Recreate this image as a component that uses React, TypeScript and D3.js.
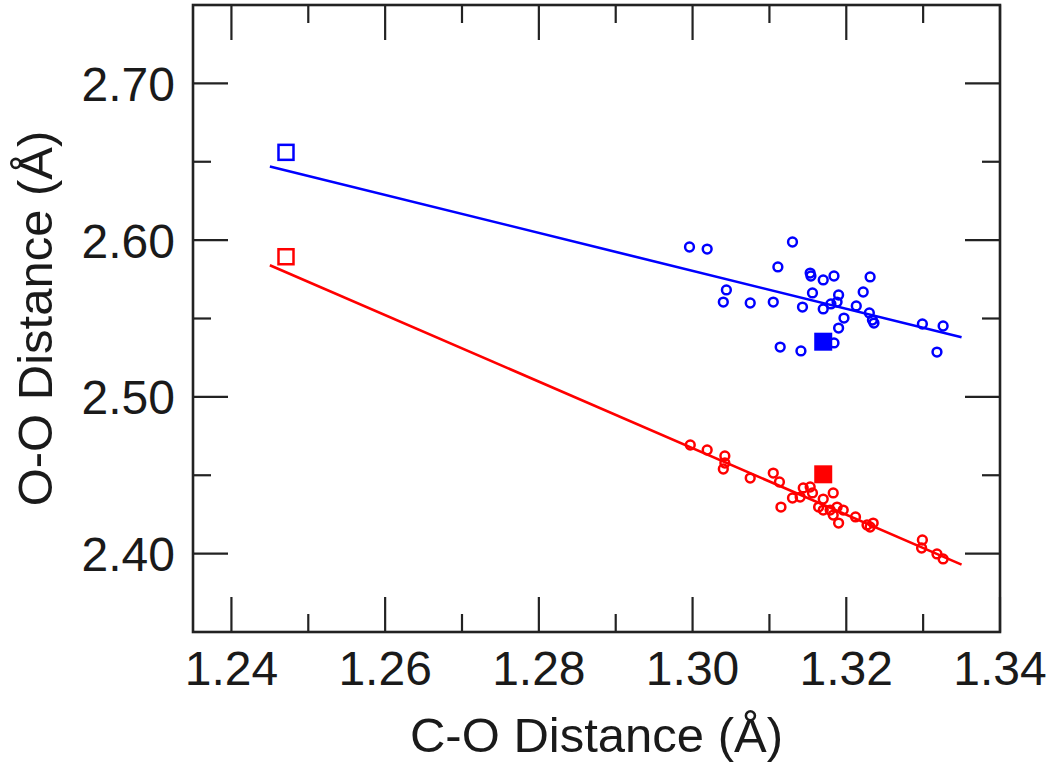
import React from "react";
import * as d3 from "d3";

const xMajorTicks = [1.24, 1.26, 1.28, 1.3, 1.32, 1.34];
const xMinorTicks = [1.25, 1.27, 1.29, 1.31, 1.33];
const yMajorTicks = [2.4, 2.5, 2.6, 2.7];
const yMinorTicks = [2.45, 2.55, 2.65];

const blueCircles: [number, number][] = [
  [1.2996, 2.5956], [1.3019, 2.5943], [1.313, 2.5988], [1.3111, 2.5829],
  [1.3153, 2.579], [1.3154, 2.5771], [1.317, 2.5746], [1.3184, 2.5771],
  [1.3231, 2.5765], [1.3044, 2.5682], [1.304, 2.5605], [1.3075, 2.5599],
  [1.3105, 2.5605], [1.3156, 2.5663], [1.3143, 2.5573], [1.317, 2.5561],
  [1.318, 2.5593], [1.319, 2.565], [1.3188, 2.5605], [1.3222, 2.5669],
  [1.3213, 2.558], [1.323, 2.5535], [1.3234, 2.549], [1.3236, 2.5471],
  [1.3197, 2.5503], [1.319, 2.5439], [1.3184, 2.5344], [1.3114, 2.5318],
  [1.3141, 2.5293], [1.3299, 2.5465], [1.3326, 2.5452], [1.3318, 2.5286],
];

const redCircles: [number, number][] = [
  [1.2997, 2.4693], [1.3019, 2.4661], [1.3042, 2.4623], [1.3042, 2.4578],
  [1.304, 2.454], [1.3075, 2.4482], [1.3105, 2.4514], [1.3113, 2.4457],
  [1.3115, 2.4297], [1.313, 2.4355], [1.314, 2.4361], [1.3144, 2.4419],
  [1.3153, 2.4425], [1.3156, 2.4387], [1.317, 2.4348], [1.3183, 2.4387],
  [1.3164, 2.4297], [1.317, 2.4278], [1.3179, 2.4278], [1.3188, 2.4297],
  [1.3196, 2.4278], [1.3183, 2.4246], [1.319, 2.4195], [1.3212, 2.4234],
  [1.3227, 2.4183], [1.3235, 2.4195], [1.3231, 2.417], [1.3299, 2.4087],
  [1.3298, 2.4036], [1.3318, 2.3998], [1.3326, 2.3966],
];

const blueFit: [number, number][] = [[1.245, 2.647], [1.335, 2.538]];
const redFit: [number, number][] = [[1.245, 2.584], [1.335, 2.393]];

const blueOpenSquare: [number, number] = [1.2471, 2.656];
const redOpenSquare: [number, number] = [1.2471, 2.5894];
const blueFilledSquare: [number, number] = [1.317, 2.5352];
const redFilledSquare: [number, number] = [1.317, 2.4506];

const BLUE = "#0000ff";
const RED = "#ff0000";
const FONT = "'Liberation Sans', Arial, Helvetica, sans-serif";

export default function App() {
  const W = 1050, H = 764;
  const left = 193, right = 1000, top = 5, bottom = 632;
  const x = d3.scaleLinear().domain([1.235, 1.34]).range([left, right]);
  const y = d3.scaleLinear().domain([2.35, 2.75]).range([bottom, top]);
  const line = d3.line<[number, number]>().x((d) => x(d[0])).y((d) => y(d[1]));

  const majLen = 35, minLen = 18;
  const openSize = 15, fillSize = 18;

  return (
    <div style={{ position: "absolute", left: 0, top: 0 }}>
      <svg width={W} height={H} style={{ display: "block", background: "#fff" }}>
        <g stroke="#222" strokeWidth={2.2}>
          {xMajorTicks.map((t) => (
            <g key={"xM" + t}>
              <line x1={x(t)} x2={x(t)} y1={bottom} y2={bottom - majLen} />
              <line x1={x(t)} x2={x(t)} y1={top} y2={top + majLen} />
            </g>
          ))}
          {xMinorTicks.map((t) => (
            <g key={"xm" + t}>
              <line x1={x(t)} x2={x(t)} y1={bottom} y2={bottom - minLen} />
              <line x1={x(t)} x2={x(t)} y1={top} y2={top + minLen} />
            </g>
          ))}
          {yMajorTicks.map((t) => (
            <g key={"yM" + t}>
              <line x1={left} x2={left + majLen} y1={y(t)} y2={y(t)} />
              <line x1={right} x2={right - majLen} y1={y(t)} y2={y(t)} />
            </g>
          ))}
          {yMinorTicks.map((t) => (
            <g key={"ym" + t}>
              <line x1={left} x2={left + minLen} y1={y(t)} y2={y(t)} />
              <line x1={right} x2={right - minLen} y1={y(t)} y2={y(t)} />
            </g>
          ))}
        </g>

        <path d={line(blueFit) || ""} stroke={BLUE} strokeWidth={2.6} fill="none" />
        <path d={line(redFit) || ""} stroke={RED} strokeWidth={2.6} fill="none" />

        {blueCircles.map((d, i) => (
          <circle key={"b" + i} cx={x(d[0])} cy={y(d[1])} r={4.4} fill="none" stroke={BLUE} strokeWidth={2.5} />
        ))}
        {redCircles.map((d, i) => (
          <circle key={"r" + i} cx={x(d[0])} cy={y(d[1])} r={4.4} fill="none" stroke={RED} strokeWidth={2.5} />
        ))}

        <rect x={x(blueOpenSquare[0]) - openSize / 2} y={y(blueOpenSquare[1]) - openSize / 2} width={openSize} height={openSize} fill="none" stroke={BLUE} strokeWidth={2.5} />
        <rect x={x(redOpenSquare[0]) - openSize / 2} y={y(redOpenSquare[1]) - openSize / 2} width={openSize} height={openSize} fill="none" stroke={RED} strokeWidth={2.5} />
        <rect x={x(blueFilledSquare[0]) - fillSize / 2} y={y(blueFilledSquare[1]) - fillSize / 2} width={fillSize} height={fillSize} fill={BLUE} />
        <rect x={x(redFilledSquare[0]) - fillSize / 2} y={y(redFilledSquare[1]) - fillSize / 2} width={fillSize} height={fillSize} fill={RED} />

        <rect x={left} y={top} width={right - left} height={bottom - top} fill="none" stroke="#222" strokeWidth={2.6} />

        <g fontFamily={FONT} fontSize={48} fill="#1a1a1a">
          {xMajorTicks.map((t) => (
            <text key={"xl" + t} x={x(t)} y={685} textAnchor="middle">{t.toFixed(2)}</text>
          ))}
          {yMajorTicks.map((t) => (
            <text key={"yl" + t} x={175} y={y(t) + 17.5} textAnchor="end">{t.toFixed(2)}</text>
          ))}
        </g>

        <text x={(left + right) / 2} y={752} textAnchor="middle" fontFamily={FONT} fontSize={49} fill="#1a1a1a">C-O Distance (Å)</text>
        <text transform={`translate(52, ${(top + bottom) / 2}) rotate(-90)`} textAnchor="middle" fontFamily={FONT} fontSize={49} fill="#1a1a1a">O-O Distance (Å)</text>
      </svg>
    </div>
  );
}
